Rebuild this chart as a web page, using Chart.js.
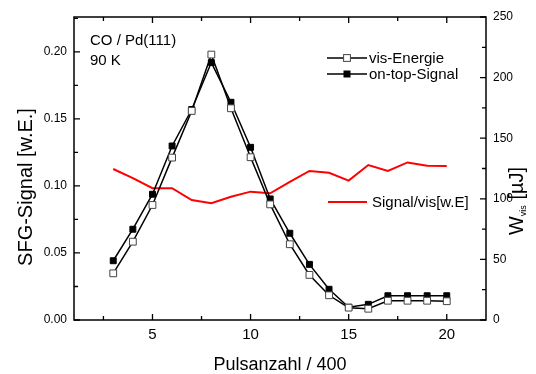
<!DOCTYPE html>
<html><head><meta charset="utf-8">
<script src="https://cdn.jsdelivr.net/npm/chart.js@4/dist/chart.umd.min.js"></script>
<style>html,body{margin:0;padding:0;background:#fff}#wrap{width:536px;height:374px}</style>
</head><body><div id="wrap"><canvas id="c" width="536" height="374"></canvas></div>
<script>
const pulses = [3,4,5,6,7,8,9,10,11,12,13,14,15,16,17,18,19,20];
const visEnergie = [38.5,64.6,94.9,134,172.5,219,174.7,134.3,95.4,62.5,37.2,20.4,10.2,9.3,15.9,15.9,15.9,15.5];
const onTopSignal = [0.0442,0.0677,0.0938,0.1298,0.157,0.192,0.1624,0.1288,0.0903,0.0647,0.0415,0.0229,0.0095,0.0117,0.0181,0.0181,0.0181,0.0181];
const signalPerVis = [124.6,117,108.7,108.7,99,96.3,101.7,105.9,104.5,114,123,121.5,115,127.9,123,130,127.3,127];
const xTicks = [5,10,15,20];
const xMinor = [2.5,7.5,12.5,17.5];
const leftTicks = [0,0.05,0.10,0.15,0.20];
const leftMinor = [0.025,0.075,0.125,0.175,0.225];
const rightTicks = [0,50,100,150,200,250];
const rightMinor = [25,75,125,175,225];
const seriesNames = ['vis-Energie','on-top-Signal','Signal/vis[w.E]'];

const FONT = '"Liberation Sans", Arial, sans-serif';
const pts = arr => pulses.map((x,i)=>({x:x,y:arr[i]}));

const framePlugin = {
  id:'frame',
  afterDraw(chart){
    const ctx = chart.ctx, a = chart.chartArea;
    const sx = chart.scales.x, sl = chart.scales.y, sr = chart.scales.y1;
    ctx.save();
    ctx.strokeStyle = '#000'; ctx.lineWidth = 1.5;
    ctx.strokeRect(a.left, a.top, a.right-a.left, a.bottom-a.top);
    ctx.lineWidth = 1.3;
    ctx.beginPath();
    const tk = (list, len, fn) => list.forEach(v=>fn(v,len));
    tk(xTicks,6,(v,l)=>{const p=sx.getPixelForValue(v);ctx.moveTo(p,a.bottom);ctx.lineTo(p,a.bottom-l);ctx.moveTo(p,a.top);ctx.lineTo(p,a.top+l);});
    tk(xMinor,4,(v,l)=>{const p=sx.getPixelForValue(v);ctx.moveTo(p,a.bottom);ctx.lineTo(p,a.bottom-l);ctx.moveTo(p,a.top);ctx.lineTo(p,a.top+l);});
    tk(leftTicks,6,(v,l)=>{const p=sl.getPixelForValue(v);ctx.moveTo(a.left,p);ctx.lineTo(a.left+l,p);});
    tk(leftMinor,4,(v,l)=>{const p=sl.getPixelForValue(v);ctx.moveTo(a.left,p);ctx.lineTo(a.left+l,p);});
    tk(rightTicks,6,(v,l)=>{const p=sr.getPixelForValue(v);ctx.moveTo(a.right,p);ctx.lineTo(a.right-l,p);});
    tk(rightMinor,4,(v,l)=>{const p=sr.getPixelForValue(v);ctx.moveTo(a.right,p);ctx.lineTo(a.right-l,p);});
    ctx.stroke();

    ctx.fillStyle = '#000';
    ctx.font = '15px '+FONT; ctx.textAlign='left'; ctx.textBaseline='alphabetic';
    ctx.fillText('CO / Pd(111)', 90, 45);
    ctx.fillText('90 K', 90, 65);
    const legendRow = (y, fill, stroke, r) => {
      ctx.strokeStyle='#000'; ctx.lineWidth=1.5;
      ctx.beginPath(); ctx.moveTo(327,y); ctx.lineTo(367,y); ctx.stroke();
      ctx.fillStyle=fill; ctx.strokeStyle=stroke; ctx.lineWidth=1;
      ctx.fillRect(347-r,y-r,2*r,2*r); ctx.strokeRect(347-r,y-r,2*r,2*r);
    };
    legendRow(58,'#fff','#444',3.4);
    legendRow(74,'#000','#000',3);
    ctx.fillStyle='#000'; ctx.font='15px '+FONT;
    ctx.fillText(seriesNames[0], 369, 63);
    ctx.fillText(seriesNames[1], 369, 79);
    ctx.strokeStyle='#ff0000'; ctx.lineWidth=2;
    ctx.beginPath(); ctx.moveTo(328,202); ctx.lineTo(367,202); ctx.stroke();
    ctx.fillStyle='#000';
    ctx.fillText(seriesNames[2], 372, 207);
    ctx.font='18px '+FONT; ctx.textAlign='center';
    ctx.fillText('Pulsanzahl / 400', 280, 370);
    ctx.save(); ctx.translate(32,187); ctx.rotate(-Math.PI/2);
    ctx.font='20px '+FONT; ctx.textAlign='center';
    ctx.fillText('SFG-Signal [w.E.]',0,0);
    ctx.restore();
    ctx.save(); ctx.translate(523,201); ctx.rotate(-Math.PI/2);
    ctx.textAlign='left';
    ctx.font='20px '+FONT; const wW = ctx.measureText('W').width;
    ctx.font='9px '+FONT; const wv = ctx.measureText('vis').width;
    ctx.font='20px '+FONT; const wb = ctx.measureText(' [µJ]').width;
    let x0 = -(wW+wv+wb)/2;
    ctx.fillText('W',x0,0); x0+=wW;
    ctx.font='9px '+FONT; ctx.fillText('vis',x0,3); x0+=wv;
    ctx.font='20px '+FONT; ctx.fillText(' [µJ]',x0,0);
    ctx.restore();
    ctx.restore();
  }
};

new Chart(document.getElementById('c'), {
  type:'line',
  data:{datasets:[
    {label:seriesNames[2], data:pts(signalPerVis), yAxisID:'y1', borderColor:'#ff0000', borderWidth:2, pointRadius:0, tension:0, order:3},
    {label:seriesNames[1], data:pts(onTopSignal), yAxisID:'y', borderColor:'#000', borderWidth:1.5, pointStyle:'rect', pointRadius:4.2, pointBackgroundColor:'#000', pointBorderColor:'#000', pointBorderWidth:1, tension:0, order:2},
    {label:seriesNames[0], data:pts(visEnergie), yAxisID:'y1', borderColor:'#000', borderWidth:1.5, pointStyle:'rect', pointRadius:4.8, pointBackgroundColor:'#fff', pointBorderColor:'#444', pointBorderWidth:1, tension:0, order:1}
  ]},
  options:{
    responsive:false, animation:false, devicePixelRatio:1,
    layout:{padding:{top:17,left:0,right:0,bottom:0}},
    plugins:{legend:{display:false}, tooltip:{enabled:false}},
    scales:{
      x:{type:'linear', min:1, max:22, grid:{display:false, drawTicks:false}, border:{display:false},
         afterBuildTicks:s=>{s.ticks = xTicks.map(v=>({value:v}));},
         afterFit:s=>{s.height=54;},
         ticks:{padding:6, color:'#000', font:{family:FONT,size:15}, callback:v=>String(v)}},
      y:{type:'linear', position:'left', min:0, max:0.226, grid:{display:false, drawTicks:false}, border:{display:false},
         afterBuildTicks:s=>{s.ticks = leftTicks.map(v=>({value:v}));},
         afterFit:s=>{s.width=74;},
         ticks:{padding:7, color:'#000', font:{family:FONT,size:12}, callback:v=>Number(v).toFixed(2)}},
      y1:{type:'linear', position:'right', min:0, max:250, grid:{display:false, drawTicks:false}, border:{display:false},
         afterBuildTicks:s=>{s.ticks = rightTicks.map(v=>({value:v}));},
         afterFit:s=>{s.width=50;},
         ticks:{padding:7, color:'#000', font:{family:FONT,size:12}, callback:v=>String(v)}}
    }
  },
  plugins:[framePlugin]
});
</script></body></html>
